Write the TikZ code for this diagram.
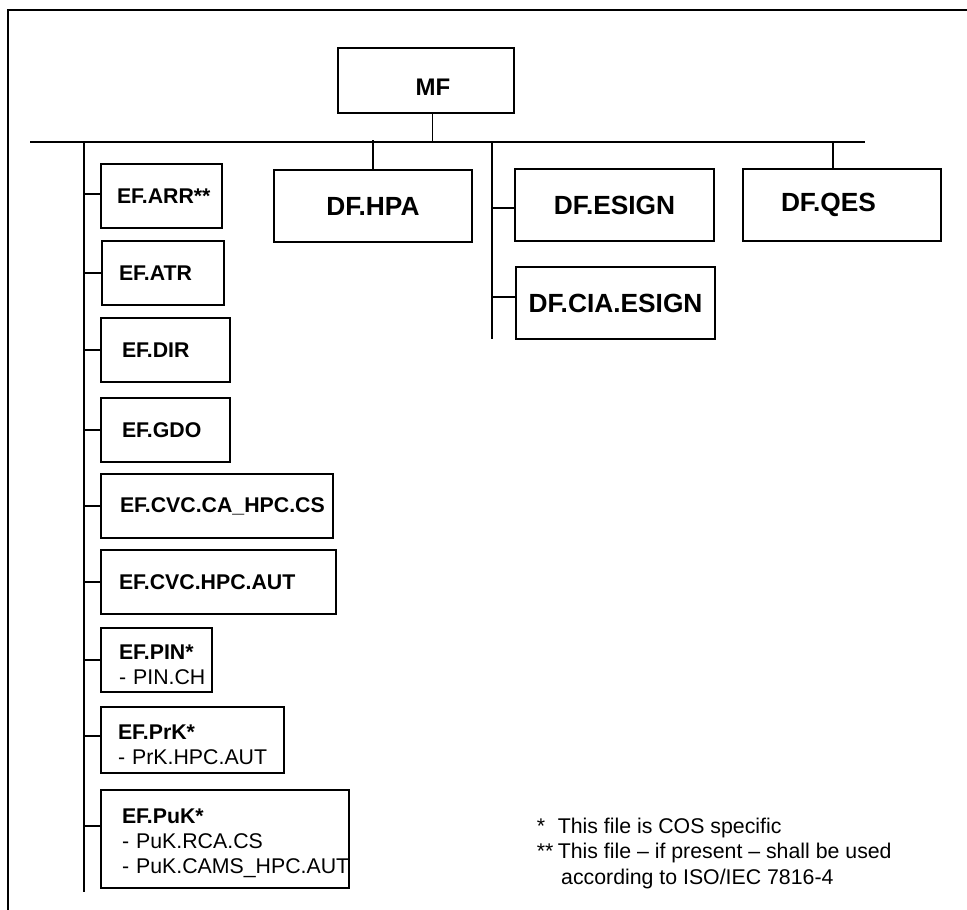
\documentclass[tikz,border=0pt]{standalone}
\usepackage{fontspec}
\setmainfont{Liberation Sans}
\newcommand\eftext{\fontsize{21.3pt}{25pt}\selectfont}
\newcommand\dftext{\fontsize{26.3pt}{30pt}\selectfont}
\newcommand\mftext{\fontsize{24pt}{28pt}\selectfont}
\begin{document}
\begin{tikzpicture}[x=1pt,y=-1pt,
  box/.style={draw, line width=2pt, rectangle, anchor=north west, inner ysep=0pt},
  efbox/.style args={#1/#2/#3}{box, text width=#1pt, minimum height=#2pt,
    inner xsep=0pt, align=left, font=\eftext,
    execute at begin node={\leftskip=#3pt\relax}},
  % multi-line entries sit a little below the middle of their box
  lowered/.style={text height=23.5pt},
  dfbox/.style args={#1/#2}{box, minimum width=#1pt, minimum height=#2pt,
    inner xsep=0pt, font=\dftext\bfseries},
  dfleft/.style args={#1/#2/#3}{box, text width=#1pt, minimum height=#2pt,
    inner xsep=0pt, align=left, font=\dftext\bfseries,
    execute at begin node={\leftskip=#3pt}},
  conn/.style={line width=1.6pt},
  busline/.style={line width=2pt},
  frameline/.style={line width=2.2pt}]
\useasboundingbox (0,0) rectangle (967,910);

% outer frame (top and left edges)
\coordinate (frameBL) at (8,910);
\coordinate (frameTL) at (8,10);
\coordinate (frameTR) at (967,10);
\draw[frameline] (frameBL) -- (frameTL) -- (frameTR);

% master file
\node[box, minimum width=176pt, minimum height=65pt, inner xsep=0pt,
      font=\mftext\bfseries] (mf) at (337,47)
      {\raisebox{-7pt}[\height][\depth]{\kern14pt MF}};

% dedicated files
\node[dfbox=198/72] (hpa) at (273,169) {DF.HPA};
\node[dfbox=199/72] (esign) at (514,168) {DF.ESIGN};
\node[dfbox=199/72] (cia) at (515,266) {DF.CIA.ESIGN};
\node[dfleft=198/72/38] (qes) at (742,168) {DF.QES};

% elementary files
\node[efbox=121/64/16, font=\eftext\bfseries] (ef1) at (100,163) {EF.ARR**};
\node[efbox=122/64/17, font=\eftext\bfseries] (ef2) at (101,240) {EF.ATR};
\node[efbox=129/64/21, font=\eftext\bfseries] (ef3) at (100,317) {EF.DIR};
\node[efbox=129/64/21, font=\eftext\bfseries] (ef4) at (100,397) {EF.GDO};
\node[efbox=232/64/19, font=\eftext\bfseries] (ef5) at (100,473) {EF.CVC.CA\_HPC.CS};
\node[efbox=235/64/18, font=\eftext\bfseries] (ef6) at (100,549) {EF.CVC.HPC.AUT};
\node[efbox=111/64/18, lowered] (ef7) at (100,627)
  {\mbox{\bfseries EF.PIN*}\\\mbox{- PIN.CH}};
\node[efbox=183/66/17, lowered] (ef8) at (100,706)
  {\mbox{\bfseries EF.PrK*}\\\mbox{- PrK.HPC.AUT}};
\node[efbox=248/98/21, lowered] (ef9) at (100,789)
  {\mbox{\bfseries EF.PuK*}\\\mbox{- PuK.RCA.CS}\\\mbox{- PuK.CAMS\_HPC.AUT}};

% bus and trunks
\coordinate (busL) at (30,142);
\coordinate (busR) at (865,142);
\coordinate (trunkT) at (84,142);
\coordinate (trunkB) at (84,892);
\coordinate (dfT) at (492,142);
\coordinate (dfB) at (492,339);
\draw[busline] (busL) -- (busR);
\draw[conn] ([xshift=6.6pt]mf.south) -- ([xshift=6.6pt]mf.south |- busL);
\draw[conn] (trunkT) -- (trunkB);
\draw[conn] (dfT) -- (dfB);

% branches to the dedicated files
\draw[conn] (hpa.north) -- ([yshift=2pt]hpa.north |- busL);
\draw[conn] ([xshift=-9.3pt]qes.north) -- ([xshift=-9.3pt]qes.north |- busL);
\draw[conn] ([yshift=-2.7pt]esign.west) -- ([yshift=-2.7pt]esign.west -| dfT);
\draw[conn] ([yshift=6pt]cia.west) -- ([yshift=6pt]cia.west -| dfT);

% branches to the elementary files
\draw[conn] ([yshift=2pt]ef1.west) -- ([yshift=2pt]ef1.west -| trunkT);
\foreach \n in {ef2,ef3,ef4,ef5,ef6,ef7}
  \draw[conn] (\n.west) -- (\n.west -| trunkT);
\draw[conn] ([yshift=4pt]ef8.west) -- ([yshift=4pt]ef8.west -| trunkT);
\draw[conn] ([yshift=13pt]ef9.west) -- ([yshift=13pt]ef9.west -| trunkT);

% footnotes
\node[anchor=base west, inner sep=0pt, font=\fontsize{21.3pt}{25.5pt}\selectfont] (notes) at (536.7,833)
  {\begin{tabular}[t]{@{}l@{\hspace{4.3pt}}l@{}}
   {*} & This file is COS specific\\
   {**} & This file – if present – shall be used\\
      & \hspace{3.4pt}according to ISO/IEC 7816-4
   \end{tabular}};
\end{tikzpicture}
\end{document}
